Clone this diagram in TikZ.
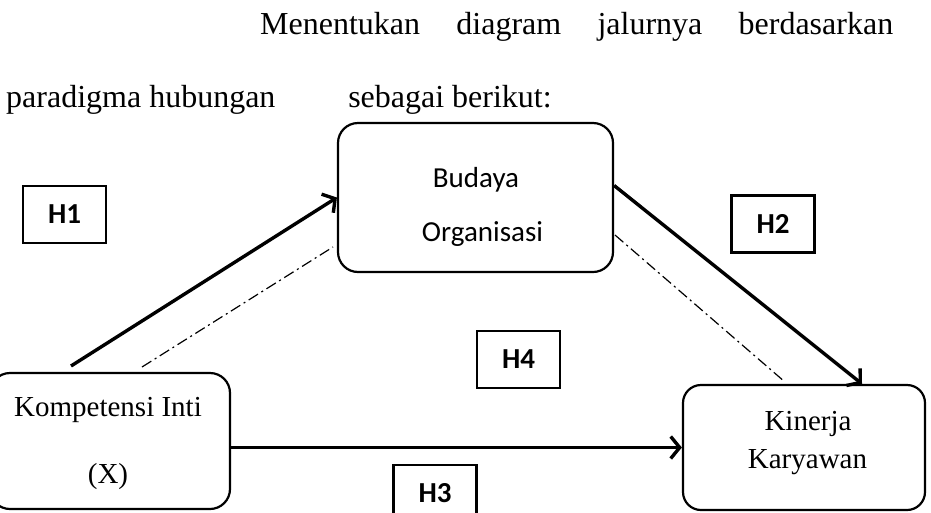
\documentclass[tikz,border=0pt]{standalone}
\usepackage{fontspec}
\setmainfont{Liberation Serif}
\newfontfamily\calib{Carlito}
\usetikzlibrary{arrows.meta}
\begin{document}
\begin{tikzpicture}[x=1pt,y=-1pt,
  rbox/.style={draw, line width=2.2pt, rounded corners=20pt, inner sep=0pt},
  hbox/.style={draw, line width=2.2pt, inner sep=0pt, minimum width=83pt, minimum height=57pt,
    font=\calib\bfseries\fontsize{29}{30}\selectfont},
  para/.style={inner sep=0pt, anchor=base west, font=\fontsize{32}{36}\selectfont},
  serif/.style={inner sep=0pt, anchor=base, font=\fontsize{29}{32}\selectfont},
  sans/.style={inner sep=0pt, anchor=base, font=\calib\fontsize{29}{32}\selectfont},
  arr/.style={line width=3.4pt, -{Straight Barb[length=9pt,width=22pt]}},
  dd/.style={line width=1.2pt, dash pattern=on 11pt off 4pt on 2pt off 4pt}
]
\useasboundingbox (0,0) rectangle (931,512);
\clip (0,0) rectangle (931,512);
\fill[white] (0,0) rectangle (931,512);

% paragraph text
\node[para] (l1) at (260,34) {\hbox to 633pt{Menentukan\hfill diagram\hfill jalurnya\hfill berdasarkan}};
\node[para] (l2a) at (6,107) {paradigma hubungan};
\node[para, anchor=base] (l2b) at (450,107) {sebagai berikut:};

% main boxes
\node[rbox, minimum width=275pt, minimum height=149pt] (bud) at (475.5,197.5) {};
\node[rbox, minimum width=240pt, minimum height=136pt] (komp) at (110,441) {};
\node[rbox, minimum width=242pt, minimum height=125pt, rounded corners=18pt] (kin) at (804,447.5) {};

% box texts
\node[sans] (bud1) at (476,187) {Budaya};
\node[sans] (bud2) at (482.5,241) {Organisasi};
\node[serif] (komp1) at (108,416) {Kompetensi Inti};
\node[serif] (komp2) at (108,483) {(X)};
\node[serif] (kin1) at (808,430) {Kinerja};
\node[serif] (kin2) at (807.5,468) {Karyawan};

% hypothesis boxes
\node[hbox] (h1) at (64.5,214.5) {H1};
\node[hbox] (h2) at (773,224) {H2};
\node[hbox] (h4) at (518.5,359.5) {H4};
\node[hbox] (h3) at (435,493.5) {H3};

% connectors
\coordinate (a1s) at (71,366);
\draw[arr] (a1s) -- (bud.west);
\draw[arr] ([yshift=12pt]bud.east) -- ([xshift=58pt]kin.north);
\draw[arr] (komp.east |- kin.west) -- (kin.west);

\coordinate (d1s) at (142,367);
\coordinate (d1e) at (333,247);
\draw[dd] (d1s) -- (d1e);
\coordinate (d2s) at (615,235);
\coordinate (d2e) at (785,382);
\draw[dd] (d2s) -- (d2e);
\end{tikzpicture}
\end{document}
